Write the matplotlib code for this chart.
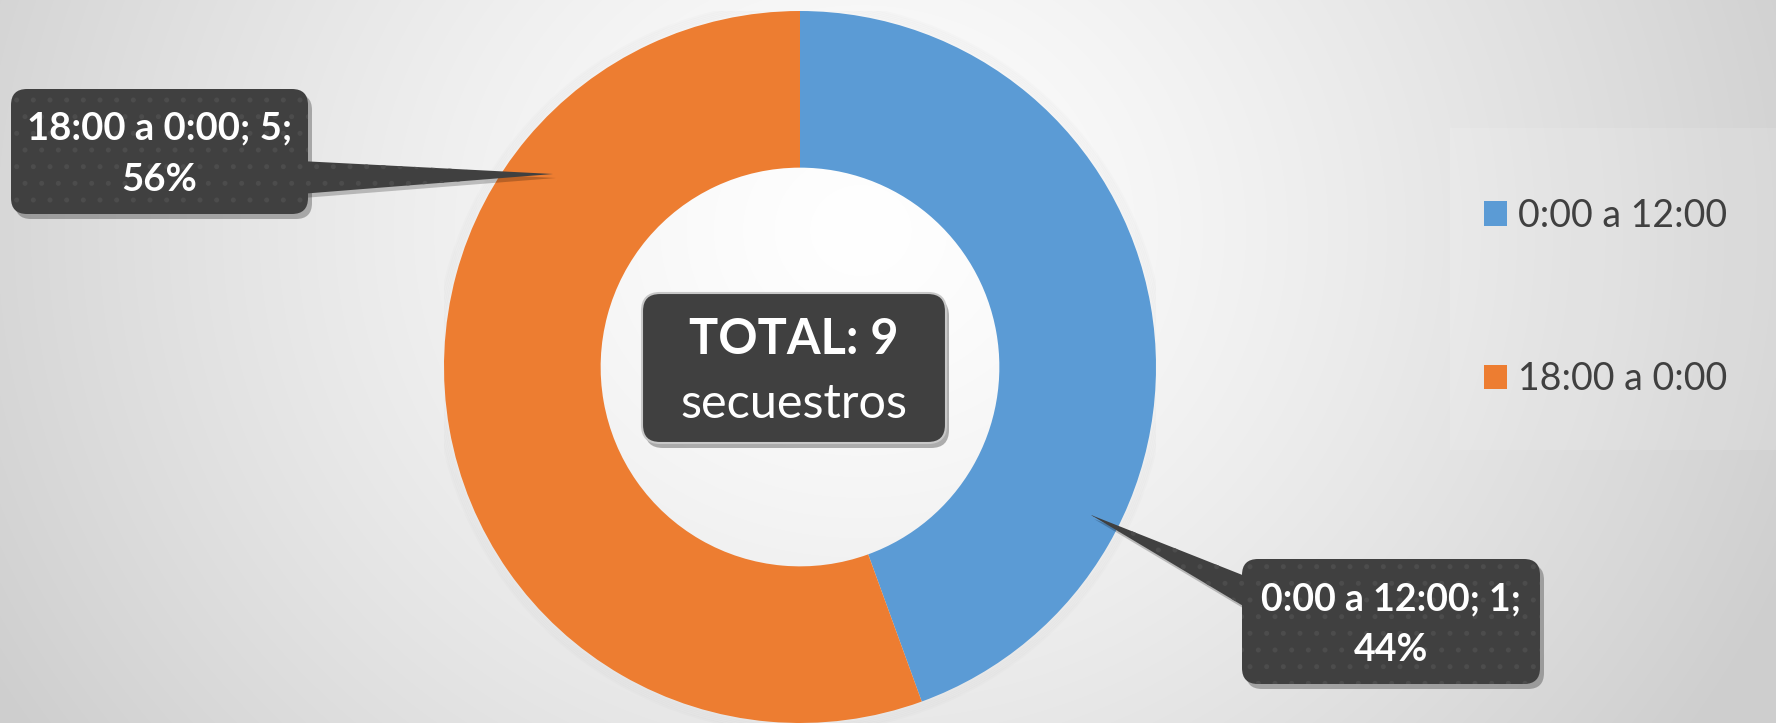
import numpy as np
import matplotlib.pyplot as plt
from matplotlib.patches import FancyBboxPatch, Polygon, Circle, Rectangle

plt.rcParams['font.family'] = ['Lato', 'DejaVu Sans']
plt.rcParams['hatch.color'] = '#4c4c4c'
plt.rcParams['hatch.linewidth'] = 1.2

# data
categories = ['0:00 a 12:00', '18:00 a 0:00']
values = [4, 5]            # slice sizes (44% / 56%)
shown_counts = [1, 5]      # numbers printed in the callouts
colors = ['#5B9BD5', '#ED7D31']
center_title = 'TOTAL: 9'
center_sub = 'secuestros'

W, H = 1776, 723
fig = plt.figure(figsize=(W / 100, H / 100), dpi=100)

# background: soft radial grey gradient
bg = fig.add_axes([0, 0, 1, 1])
yy, xx = np.mgrid[0:H, 0:W]
d = np.sqrt(((xx - 860) / 1.0) ** 2 + ((yy - 230) / 0.9) ** 2)
shade = 1.0 - 0.19 * np.clip(d / 1000.0, 0, 1) ** 1.3
bg.imshow(np.dstack([shade] * 3), extent=(0, W, H, 0), aspect='auto')
bg.set_xlim(0, W)
bg.set_ylim(H, 0)
bg.axis('off')
# lighter band behind the legend
bg.add_patch(Rectangle((1450, 128), W - 1450, 322, facecolor='white', alpha=0.12, lw=0))

# donut
cx, cy, R = 800, 367, 356
ax = fig.add_axes([(cx - R) / W, (H - cy - R) / H, 2 * R / W, 2 * R / H])
ax.set_zorder(2)
for k in range(5):
    ax.add_patch(Circle((0, 0), 1.0 + 0.005 * (k + 1), facecolor='none',
                        edgecolor='black', alpha=0.012, lw=2))
wedges, _ = ax.pie(values, colors=colors, startangle=90, counterclock=False,
                   radius=1.0, wedgeprops=dict(width=0.44, linewidth=0))
ax.set_xlim(-1, 1)
ax.set_ylim(-1, 1)
ax.axis('off')

# overlay in pixel coordinates for callouts
ov = fig.add_axes([0, 0, 1, 1])
ov.set_zorder(3)
ov.set_xlim(0, W)
ov.set_ylim(H, 0)
ov.axis('off')
ov.patch.set_alpha(0)

box_col = '#404040'


def callout(x0, y0, x1, y1, lines, sizes, weights, pointer=None, hatch='.'):
    # shadow
    ov.add_patch(FancyBboxPatch((x0 + 4, y0 + 5), x1 - x0, y1 - y0,
                                boxstyle='round,pad=0,rounding_size=16',
                                facecolor='black', alpha=0.28, lw=0))
    if pointer is not None:
        ov.add_patch(Polygon([(p[0] + 3, p[1] + 4) for p in pointer], closed=True,
                             facecolor='black', alpha=0.22, lw=0))
        ov.add_patch(Polygon(pointer, closed=True, facecolor=box_col,
                             edgecolor='#4c4c4c', hatch=hatch, lw=0))
    ov.add_patch(FancyBboxPatch((x0, y0), x1 - x0, y1 - y0,
                                boxstyle='round,pad=0,rounding_size=16',
                                facecolor=box_col, edgecolor='#4c4c4c',
                                hatch=hatch, lw=0))
    for (ty, txt), fs, fw in zip(lines, sizes, weights):
        ov.text((x0 + x1) / 2, ty, txt, ha='center', va='center', color='white',
                fontsize=fs, fontweight=fw)


total = sum(values)
pcts = [round(100 * v / total) for v in values]
lab = [f'{c}; {n};' for c, n in zip(categories, shown_counts)]

# 18:00 a 0:00 callout (left)
callout(11, 89, 308, 214,
        [(128, lab[1]), (180, f'{pcts[1]}%')], [27.5, 27.5], ['bold', 'bold'],
        pointer=[(300, 161), (553, 174), (300, 194)])

# 0:00 a 12:00 callout (right)
callout(1242, 559, 1540, 684,
        [(599, lab[0]), (650, f'{pcts[0]}%')], [27, 27], ['bold', 'bold'],
        pointer=[(1091, 515), (1250, 578), (1250, 610)])

# center total box
ov.add_patch(FancyBboxPatch((642 + 3, 293 + 5), 304, 150,
                            boxstyle='round,pad=0,rounding_size=18',
                            facecolor='black', alpha=0.3, lw=0))
ov.add_patch(FancyBboxPatch((642, 293), 304, 150,
                            boxstyle='round,pad=0,rounding_size=18',
                            facecolor=box_col, edgecolor='#c8c8c8', lw=1.5))
ov.text(794, 339, center_title, ha='center', va='center', color='white',
        fontsize=35, fontweight='bold')
ov.text(794, 404, center_sub, ha='center', va='center', color='white',
        fontsize=35)

# legend
leg = fig.legend(wedges, categories, loc='upper left',
                 bbox_to_anchor=(1450 / W, 1 - 164 / H), frameon=False,
                 fontsize=27, labelcolor='#404040', handlelength=0.62,
                 handleheight=0.62, handletextpad=0.3, labelspacing=3.4)
leg.set_zorder(4)

fig.savefig('out.png', dpi=100)
